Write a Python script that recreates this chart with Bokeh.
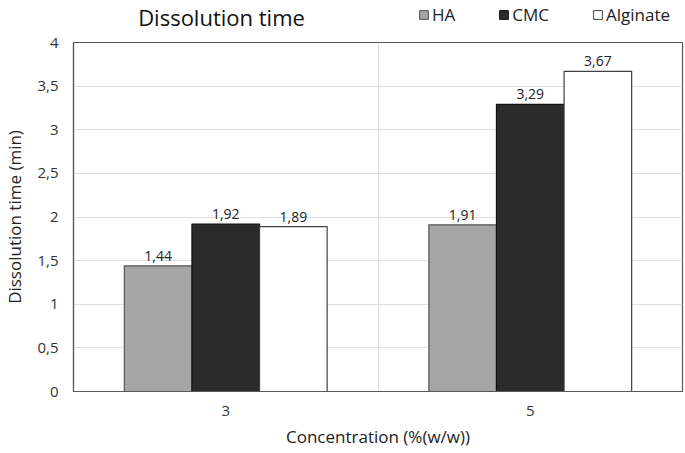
from bokeh.plotting import figure
from bokeh.models import (ColumnDataSource, Range1d, FixedTicker, Legend, LegendItem,
                          LabelSet, Label)
from bokeh.layouts import column
from bokeh.core.properties import value
from bokeh.embed import file_html
from bokeh.resources import INLINE

concentrations = ["3", "5"]
series = ["HA", "CMC", "Alginate"]
ha = [1.44, 1.91]
cmc = [1.92, 3.29]
alginate = [1.89, 3.67]
y_ticks = [0, 0.5, 1, 1.5, 2, 2.5, 3, 3.5, 4]
y_tick_labels = ["0", "0,5", "1", "1,5", "2", "2,5", "3", "3,5", "4"]

fills = ["#a5a5a5", "#2b2b2b", "#ffffff"]
lines = ["#555555", "#111111", "#404040"]
FONT = "Open Sans"
W = 684
LEFT = 73
RIGHT = 2
FW = W - LEFT - RIGHT
HDR_H = 32

# ---- header: title + legend (same frame left/right as the chart) ----
hdr = figure(width=W, height=HDR_H, output_backend="svg", toolbar_location=None,
             x_range=Range1d(0, FW), y_range=Range1d(0, HDR_H),
             min_border_left=LEFT, min_border_right=RIGHT, min_border_top=0, min_border_bottom=0)
hdr.axis.visible = False
hdr.grid.visible = False
hdr.outline_line_color = None
hdr.background_fill_color = "white"
hdr.border_fill_color = "white"

title = Label(x=148, y=HDR_H - 16, text="Dissolution time", text_align="center",
              text_baseline="middle", text_font=FONT, text_font_size="22px",
              text_color="#111111")
hdr.add_layout(title)

proxies = []
for k in range(3):
    proxies.append(hdr.vbar(x=[-50], top=[-50], bottom=-60, width=1,
                            fill_color=fills[k], line_color=lines[k], line_width=1))
legend = Legend(items=[LegendItem(label=s, renderers=[r]) for s, r in zip(series, proxies)],
                orientation="horizontal", location=(345, 6),
                label_text_font=FONT, label_text_font_size="17px", label_text_color="#222222",
                glyph_width=11, glyph_height=11, label_standoff=3, spacing=43,
                padding=0, margin=0, border_line_color=None, background_fill_alpha=0)
hdr.add_layout(legend, "center")

# ---- main chart ----
p = figure(width=W, height=421, output_backend="svg", toolbar_location=None,
           x_range=Range1d(0, 2), y_range=Range1d(0, 4),
           min_border_left=LEFT, min_border_right=RIGHT, min_border_top=10, min_border_bottom=62)
p.background_fill_color = "white"
p.border_fill_color = "white"
p.outline_line_color = "#595959"
p.outline_line_width = 1.2

bw = 0.222
for k, vals in enumerate([ha, cmc, alginate]):
    xs = [i + 0.5 + (k - 1) * bw for i in range(len(concentrations))]
    src = ColumnDataSource(dict(x=xs, top=vals,
                                lab=[f"{v:.2f}".replace(".", ",") for v in vals]))
    p.vbar(x="x", top="top", width=bw, bottom=0, source=src,
           fill_color=fills[k], line_color=lines[k], line_width=1.2)
    ls = LabelSet(x="x", y="top", text="lab", source=src, y_offset=5,
                  text_align="center", text_baseline="bottom",
                  text_font=value(FONT), text_font_size=value("14px"),
                  text_color=value("#222222"))
    p.add_layout(ls)

p.xaxis.ticker = FixedTicker(ticks=[0.5, 1.5])
p.xaxis.major_label_overrides = {0.5: concentrations[0], 1.5: concentrations[1]}
p.yaxis.ticker = FixedTicker(ticks=y_ticks)
p.yaxis.major_label_overrides = {t: l for t, l in zip(y_ticks, y_tick_labels)}
for ax in (p.xaxis, p.yaxis):
    ax.major_tick_line_color = None
    ax.minor_tick_line_color = None
    ax.major_tick_out = 0
    ax.major_tick_in = 0
    ax.axis_line_color = "#595959"
    ax.axis_line_width = 1.2
    ax.major_label_text_font = FONT
    ax.major_label_text_font_size = "15px"
    ax.major_label_text_color = "#333333"
    ax.axis_label_text_font = FONT
    ax.axis_label_text_font_size = "17px"
    ax.axis_label_text_font_style = "normal"
    ax.axis_label_text_color = "#222222"
p.xaxis.axis_label = "Concentration (%(w/w))"
p.yaxis.axis_label = "Dissolution time (min)"
p.xaxis.major_label_standoff = 14
p.xaxis.axis_label_standoff = 6
p.yaxis.major_label_standoff = 15
p.yaxis.axis_label_standoff = 8

p.xgrid.ticker = FixedTicker(ticks=[1])
p.xgrid.grid_line_color = "#dedede"
p.ygrid.ticker = FixedTicker(ticks=y_ticks)
p.ygrid.grid_line_color = "#dedede"

layout = column(hdr, p, spacing=0)
open("out.html", "w").write(file_html(layout, INLINE))
